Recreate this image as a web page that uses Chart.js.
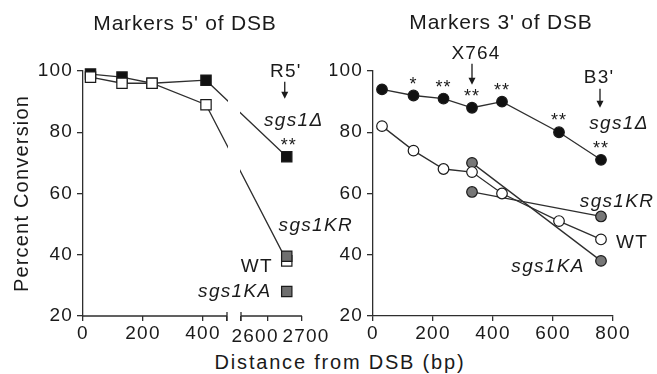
<!DOCTYPE html>
<html>
<head>
<meta charset="utf-8">
<script src="https://cdn.jsdelivr.net/npm/chart.js@4/dist/chart.umd.min.js"></script>
<style>
  html, body { margin: 0; padding: 0; background: #fff; }
  #wrap { position: relative; width: 657px; height: 374px; overflow: hidden; }
  #left { position: absolute; left: 0; top: 0; z-index: 1; }
  #right { position: absolute; left: 330px; top: 0; z-index: 2; }
  #xTitle { position: absolute; left: 0; width: 680px; top: 351px; text-align: center;
            font: 20px "Liberation Sans", Arial, sans-serif; letter-spacing: 1.8px; color: #1a1a1a; }
</style>
</head>
<body>
<div id="wrap">
  <canvas id="left" width="362" height="374"></canvas>
  <canvas id="right" width="327" height="374"></canvas>
  <div id="xTitle">Distance from DSB (bp)</div>
</div>
<script>
// left panel: markers 5' of the DSB (x axis is broken between 480 and 2520)
const leftX = [25, 130, 230, 410, 2655];
const leftSgs1d = [99, 98, 96, 97, 72];
const leftWT = [98, 96, 96, 89, 38];
const leftKR = [null, null, null, null, 39.5];
const leftKA = [null, null, null, null, 28];
const leftTicks = [0, 200, 400, 480, 2520, 2600, 2700];
const leftTickLabels = ['0', '200', '400', '', '', '2600', '2700'];

// right panel: markers 3' of the DSB
const rightX = [30, 135, 235, 330, 430, 620, 760];
const rightSgs1d = [94, 92, 91, 88, 90, 80, 71];
const rightWT = [82, 74, 68, 67, 60, 51, 45];
const rightKR = [null, null, null, 60.5, null, null, 52.5];
const rightKA = [null, null, null, 70, null, null, 38];
const rightStars = ['', '*', '**', '**', '**', '**', '**'];
const rightTicks = [0, 200, 400, 600, 800];

const yTicks = [20, 40, 60, 80, 100];

const FAMILY = '"Liberation Sans", Arial, sans-serif';
const INK = '#1a1a1a';
const LINE = '#2e2e2e';

// broken linear axis: two ranges with a small gap between them
const brk = { lo: [0, 480], hi: [2520, 2700], w: [144, 14, 61] };

class BrokenScale extends Chart.LinearScale {
  getPixelForValue(v) {
    if (v === null || v === undefined || isNaN(v)) return NaN;
    const [a, b, c] = brk.w, tot = a + b + c;
    let p;
    if (v <= brk.lo[1]) p = (v - brk.lo[0]) / (brk.lo[1] - brk.lo[0]) * a;
    else if (v < brk.hi[0]) p = a + (v - brk.lo[1]) / (brk.hi[0] - brk.lo[1]) * b;
    else p = a + b + (v - brk.hi[0]) / (brk.hi[1] - brk.hi[0]) * c;
    return this.getPixelForDecimal(p / tot);
  }
  getValueForPixel(px) {
    const [a, b, c] = brk.w, tot = a + b + c;
    const p = this.getDecimalForPixel(px) * tot;
    if (p <= a) return brk.lo[0] + p / a * (brk.lo[1] - brk.lo[0]);
    if (p < a + b) return brk.lo[1] + (p - a) / b * (brk.hi[0] - brk.lo[1]);
    return brk.hi[0] + (p - a - b) / c * (brk.hi[1] - brk.hi[0]);
  }
}
BrokenScale.id = 'broken';
BrokenScale.defaults = Chart.LinearScale.defaults;
Chart.register(BrokenScale);

const pts = (xs, ys) => xs.map((x, i) => ({ x: x, y: ys[i] }));

function series(data, style, fill, radius) {
  return {
    data: data,
    borderColor: LINE,
    borderWidth: 1.3,
    pointStyle: style,
    pointRadius: radius,
    pointBackgroundColor: fill,
    pointBorderColor: INK,
    pointBorderWidth: 1.2,
    spanGaps: true,
    clip: false
  };
}

function yAxis(width, withTitle) {
  return {
    type: 'linear', min: 20, max: 100,
    afterBuildTicks: s => { s.ticks = yTicks.map(v => ({ value: v })); },
    afterFit: s => { s.width = width; },
    border: { color: LINE, width: 1.3 },
    grid: { drawOnChartArea: false, drawTicks: true, tickLength: 6, color: LINE, lineWidth: 1.3 },
    ticks: { color: INK, padding: 4, font: { family: FAMILY, size: 19 } },
    title: { display: withTitle, text: 'Percent Conversion', color: INK,
             font: { family: FAMILY, size: 20 }, padding: { top: 10, bottom: 0 } }
  };
}

function text(ctx, s, x, y, font, sp, align, base) {
  ctx.save();
  ctx.letterSpacing = sp + 'px';
  ctx.font = font;
  ctx.fillStyle = INK;
  ctx.textAlign = align || 'center';
  ctx.textBaseline = base || 'middle';
  ctx.fillText(s, x, y);
  ctx.restore();
}

function arrow(ctx, x, y1, y2) {
  ctx.save();
  ctx.strokeStyle = INK;
  ctx.fillStyle = INK;
  ctx.lineWidth = 1.3;
  ctx.beginPath();
  ctx.moveTo(x, y1);
  ctx.lineTo(x, y2 - 5);
  ctx.stroke();
  ctx.beginPath();
  ctx.moveTo(x - 3.5, y2 - 7);
  ctx.lineTo(x + 3.5, y2 - 7);
  ctx.lineTo(x, y2);
  ctx.closePath();
  ctx.fill();
  ctx.restore();
}

// a little tracking on all the chart's own text
const spacing = {
  id: 'spacing',
  beforeLayout(chart) { chart.ctx.letterSpacing = '1.2px'; },
  beforeDraw(chart) { chart.ctx.letterSpacing = '1.2px'; }
};

const TITLE = '21px ' + FAMILY;
const ITAL = 'italic 19px ' + FAMILY;
const PLAIN = '19px ' + FAMILY;
const STAR = '18px ' + FAMILY;

// the two labels past the break are nudged apart, as in the figure
const brokenLabelShift = { 2600: -13, 2700: 4 };

// ---------- left chart ----------
const leftDecor = {
  id: 'leftDecor',
  afterDatasetsDraw(chart) {
    const xs = chart.scales.x, ca = chart.chartArea;
    const a = xs.getPixelForValue(brk.lo[1]) + 1, b = xs.getPixelForValue(brk.hi[0]) - 1;
    chart.ctx.save();
    chart.ctx.fillStyle = '#fff';
    chart.ctx.fillRect(a, ca.top, b - a, ca.bottom - ca.top - 1);
    chart.ctx.restore();
  },
  afterDraw(chart) {
    const ctx = chart.ctx, xs = chart.scales.x, ys = chart.scales.y;
    const top = xs.top;
    ctx.save();
    ctx.strokeStyle = LINE;
    ctx.lineWidth = 1.3;
    ctx.beginPath();
    ctx.moveTo(xs.getPixelForValue(brk.lo[0]), top);
    ctx.lineTo(xs.getPixelForValue(brk.lo[1]), top);
    ctx.moveTo(xs.getPixelForValue(brk.hi[0]), top);
    ctx.lineTo(xs.getPixelForValue(brk.hi[1]), top);
    [brk.lo[1], brk.hi[0]].forEach(v => {
      const p = xs.getPixelForValue(v);
      ctx.moveTo(p, top - 4);
      ctx.lineTo(p, top + 5);
    });
    ctx.stroke();
    ctx.restore();

    leftTicks.forEach((v, i) => {
      if (v in brokenLabelShift) {
        text(ctx, leftTickLabels[i], xs.getPixelForValue(v) + brokenLabelShift[v], 337, PLAIN, 1.2);
      }
    });

    text(ctx, "Markers 5' of DSB", 185, 24, TITLE, 0.8);

    const n = leftX.length - 1;
    const px = xs.getPixelForValue(leftX[n]);
    const yD = ys.getPixelForValue(leftSgs1d[n]);
    text(ctx, "R5'", px - 1, yD - 85, PLAIN, 1.2);
    arrow(ctx, px - 2, yD - 75, yD - 58);
    text(ctx, 'sgs1\u0394', px + 7, yD - 36, ITAL, 1.3);
    text(ctx, '**', px + 2, yD - 6, STAR, 1, 'center', 'alphabetic');
    text(ctx, 'sgs1KR', px + 29, ys.getPixelForValue(leftKR[n]) - 31, ITAL, 1.3);
    text(ctx, 'WT', px - 30, ys.getPixelForValue(leftWT[n]) + 6, PLAIN, 1.2);
    text(ctx, 'sgs1KA', px - 52, ys.getPixelForValue(leftKA[n]), ITAL, 1.3);
  }
};

new Chart(document.getElementById('left'), {
  type: 'line',
  data: {
    datasets: [
      series(pts(leftX, leftKR), 'rect', '#6f6f6f', 7.3),
      series(pts(leftX, leftKA), 'rect', '#6f6f6f', 7.3),
      series(pts(leftX, leftWT), 'rect', '#fff', 7.3),
      series(pts(leftX, leftSgs1d), 'rect', '#111', 7.3)
    ]
  },
  options: {
    responsive: false,
    animation: false,
    events: [],
    layout: { padding: { top: 71, right: 60, bottom: 0, left: 0 } },
    plugins: { legend: { display: false }, tooltip: { enabled: false } },
    scales: {
      x: {
        type: 'broken', min: 0, max: 2700,
        afterBuildTicks: s => { s.ticks = leftTicks.map(v => ({ value: v })); },
        afterFit: s => { s.height = 58; },
        border: { display: false },
        grid: { drawOnChartArea: false, drawTicks: true, tickLength: 5, color: LINE, lineWidth: 1.3 },
        ticks: {
          autoSkip: false, maxRotation: 0, color: INK, padding: 1,
          font: { family: FAMILY, size: 19 },
          callback: (v, i) => (leftTicks[i] in brokenLabelShift ? '' : leftTickLabels[i])
        }
      },
      y: yAxis(83, true)
    }
  },
  plugins: [spacing, leftDecor]
});

// ---------- right chart ----------
const rightDecor = {
  id: 'rightDecor',
  afterDraw(chart) {
    const ctx = chart.ctx, xs = chart.scales.x, ys = chart.scales.y;
    text(ctx, "Markers 3' of DSB", 171, 23, TITLE, 0.8);

    rightX.forEach((x, i) => {
      if (rightStars[i]) {
        text(ctx, rightStars[i], xs.getPixelForValue(x), ys.getPixelForValue(rightSgs1d[i]) - 6,
             STAR, 1, 'center', 'alphabetic');
      }
    });

    const xm = xs.getPixelForValue(rightX[3]), ym = ys.getPixelForValue(rightSgs1d[3]);
    text(ctx, 'X764', xm + 4, ym - 54, PLAIN, 1.2);
    arrow(ctx, xm, ym - 44, ym - 23);

    const n = rightX.length - 1;
    const px = xs.getPixelForValue(rightX[n]);
    const yD = ys.getPixelForValue(rightSgs1d[n]);
    text(ctx, "B3'", px - 2, yD - 82, PLAIN, 1.2);
    arrow(ctx, px - 1, yD - 71, yD - 52);
    text(ctx, 'sgs1\u0394', px + 18, yD - 36, ITAL, 1.3);
    text(ctx, 'sgs1KR', px + 16, ys.getPixelForValue(rightKR[n]) - 15, ITAL, 1.3);
    text(ctx, 'WT', px + 31, ys.getPixelForValue(rightWT[n]) + 3, PLAIN, 1.2);
    text(ctx, 'sgs1KA', px - 53, ys.getPixelForValue(rightKA[n]) + 6, ITAL, 1.3);
  }
};

new Chart(document.getElementById('right'), {
  type: 'line',
  data: {
    datasets: [
      series(pts(rightX, rightWT), 'circle', '#fff', 5.3),
      series(pts(rightX, rightKA), 'circle', '#777', 5.3),
      series(pts(rightX, rightKR), 'circle', '#777', 5.3),
      series(pts(rightX, rightSgs1d), 'circle', '#111', 5.3)
    ]
  },
  options: {
    responsive: false,
    animation: false,
    events: [],
    layout: { padding: { top: 71, right: 44, bottom: 0, left: 0 } },
    plugins: { legend: { display: false }, tooltip: { enabled: false } },
    scales: {
      x: {
        type: 'linear', min: 0, max: 800,
        afterBuildTicks: s => { s.ticks = rightTicks.map(v => ({ value: v })); },
        afterFit: s => { s.height = 58; },
        border: { color: LINE, width: 1.3 },
        grid: { drawOnChartArea: false, drawTicks: true, tickLength: 5, color: LINE, lineWidth: 1.3 },
        ticks: { autoSkip: false, maxRotation: 0, color: INK, padding: 1,
                 font: { family: FAMILY, size: 19 }, callback: v => String(v) }
      },
      y: yAxis(43, false)
    }
  },
  plugins: [spacing, rightDecor]
});
</script>
</body>
</html>
